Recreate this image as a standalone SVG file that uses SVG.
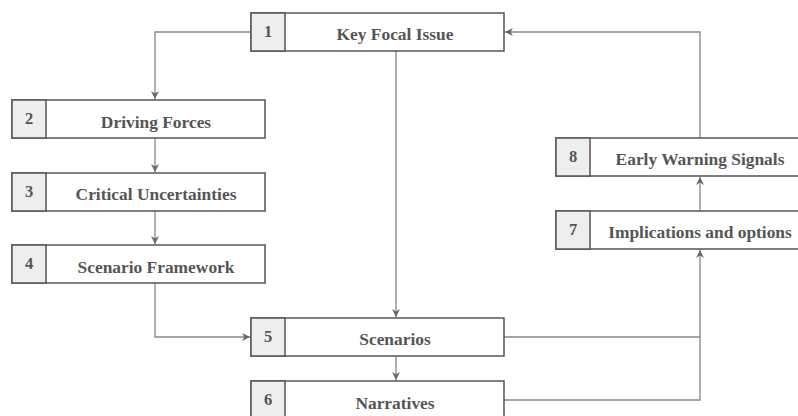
<svg xmlns="http://www.w3.org/2000/svg" width="798" height="416" viewBox="0 0 798 416">
<style>
.box{fill:#fff;stroke:#555;stroke-width:1.5}
.num{fill:#eee;stroke:#555;stroke-width:1.5}
.t{font-family:"Liberation Serif",serif;font-weight:bold;font-size:17.4px;fill:#555;text-anchor:middle;dominant-baseline:central}
.n{font-size:16.5px}
.c{fill:none;stroke:#888;stroke-width:1.3}
</style>
<defs>
<marker id="a" viewBox="0 0 10 10" refX="10" refY="5" markerWidth="8" markerHeight="8" markerUnits="userSpaceOnUse" orient="auto">
<path d="M0,0 L10,5 L0,10 L3,5 Z" fill="#666"/>
</marker>
</defs>
<g id="connectors">
<path class="c" d="M251,32 H155 V99" marker-end="url(#a)"/>
<path class="c" d="M155,138 V172" marker-end="url(#a)"/>
<path class="c" d="M155,211 V244" marker-end="url(#a)"/>
<path class="c" d="M155,283 V337 H250" marker-end="url(#a)"/>
<path class="c" d="M396,51 V317" marker-end="url(#a)"/>
<path class="c" d="M396,356 V380" marker-end="url(#a)"/>
<path class="c" d="M504,337 H700 V250" marker-end="url(#a)"/>
<path class="c" d="M504,400 H700 V337"/>
<path class="c" d="M700,211 V177" marker-end="url(#a)"/>
<path class="c" d="M700,138 V32 H505" marker-end="url(#a)"/>
</g>
<g id="n1"><rect class="box" x="251" y="13" width="253" height="38"/><rect class="num" x="251" y="13" width="34" height="38"/><text class="t n" x="268" y="31">1</text><text class="t" x="395" y="34">Key Focal Issue</text></g>
<g id="n2"><rect class="box" x="12" y="100" width="253" height="38"/><rect class="num" x="12" y="100" width="34" height="38"/><text class="t n" x="29" y="118">2</text><text class="t" x="156" y="122">Driving Forces</text></g>
<g id="n3"><rect class="box" x="12" y="173" width="253" height="38"/><rect class="num" x="12" y="173" width="34" height="38"/><text class="t n" x="29" y="191">3</text><text class="t" x="156" y="194">Critical Uncertainties</text></g>
<g id="n4"><rect class="box" x="12" y="245" width="253" height="38"/><rect class="num" x="12" y="245" width="34" height="38"/><text class="t n" x="29" y="263">4</text><text class="t" x="156" y="267">Scenario Framework</text></g>
<g id="n5"><rect class="box" x="251" y="318" width="253" height="38"/><rect class="num" x="251" y="318" width="34" height="38"/><text class="t n" x="268" y="336">5</text><text class="t" x="395" y="339">Scenarios</text></g>
<g id="n6"><rect class="box" x="251" y="381" width="253" height="38"/><rect class="num" x="251" y="381" width="34" height="38"/><text class="t n" x="268" y="399">6</text><text class="t" x="395" y="403">Narratives</text></g>
<g id="n7"><rect class="box" x="556" y="211" width="253" height="38"/><rect class="num" x="556" y="211" width="34" height="38"/><text class="t n" x="573" y="229">7</text><text class="t" x="700" y="232">Implications and options</text></g>
<g id="n8"><rect class="box" x="556" y="138" width="253" height="38"/><rect class="num" x="556" y="138" width="34" height="38"/><text class="t n" x="573" y="156">8</text><text class="t" x="700" y="159">Early Warning Signals</text></g>
</svg>
